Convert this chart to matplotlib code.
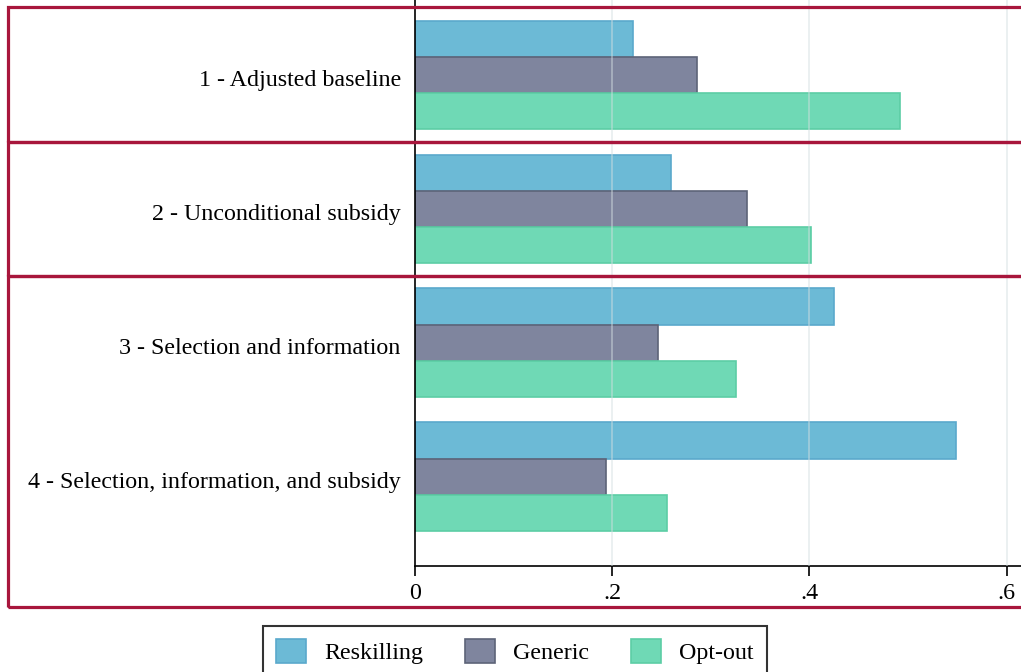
import numpy as np
import matplotlib
matplotlib.use('Agg')
import matplotlib.pyplot as plt
import matplotlib.transforms as mtransforms
from matplotlib.patches import Rectangle, Patch

# treatment arms, top to bottom
arms = ["1 - Adjusted baseline",
        "2 - Unconditional subsidy",
        "3 - Selection and information",
        "4 - Selection, information, and subsidy"]
series = ["Reskilling", "Generic", "Opt-out"]
reskilling = [0.221, 0.260, 0.425, 0.549]
generic = [0.286, 0.337, 0.247, 0.194]
opt_out = [0.492, 0.402, 0.326, 0.256]
xticks = [0, 0.2, 0.4, 0.6]
xtick_labels = ["0", ".2", ".4", ".6"]

fills = ["#6cbad6", "#7f859e", "#6fd9b5"]
edges = ["#5aa9cc", "#5d6478", "#5ccda5"]
frame_red = "#a8163c"
fs = 17.3

plt.rcParams['font.family'] = ['Liberation Serif', 'DejaVu Serif']

W, H = 1021, 672
fig = plt.figure(figsize=(W / 100, H / 100), dpi=100)

# plot area in pixels: x from 414.7 to right edge, y from top to 566
x0_px, y_axis_px = 414.7, 566
ax = fig.add_axes([x0_px / W, (H - y_axis_px) / H, 1 - x0_px / W, y_axis_px / H])

pos = np.arange(len(arms))
bh = 0.27
for k, vals in enumerate([reskilling, generic, opt_out]):
    ax.barh(pos + (k - 1) * bh, vals, height=bh, color=fills[k],
            edgecolor=edges[k], linewidth=1.2, label=series[k], zorder=2)

ax.set_xlim(0, (W - x0_px) / 986.5)
ax.set_ylim(3 + 89.3 / 134, -74.8 / 134)

ax.set_xticks(xticks)
ax.set_xticklabels(xtick_labels)
for t in xticks[1:]:
    ax.axvline(t, color="#d3dee1", lw=1.3, alpha=0.5, zorder=3)

ax.set_yticks(pos)
ax.set_yticklabels(arms)
ax.tick_params(axis='y', length=0, pad=10, labelsize=fs)
ax.tick_params(axis='x', length=7, width=1.2, direction='out', pad=5, labelsize=fs)

# nudge the arm labels down a little
shift = mtransforms.ScaledTranslation(0, -3 / 100, fig.dpi_scale_trans)
for lab in ax.get_yticklabels():
    lab.set_transform(lab.get_transform() + shift)

for s in ['top', 'right']:
    ax.spines[s].set_visible(False)
for s in ['left', 'bottom']:
    ax.spines[s].set_color('black')
    ax.spines[s].set_linewidth(1.2)

# red frames around the arm groups, in pixel coordinates
def frame(x, y_top, y_bot):
    fig.patches.append(Rectangle((x / W, 1 - y_bot / H), (W + 20 - x) / W,
                                 (y_bot - y_top) / H, transform=fig.transFigure,
                                 fill=False, edgecolor=frame_red, linewidth=2.3,
                                 clip_on=False, zorder=10))

frame(8, 7, 142)
frame(8, 142, 276)
frame(7.5, 276, 607)

handles = [Patch(facecolor=fills[k], edgecolor=edges[k], linewidth=1.2) for k in range(3)]
leg = fig.legend(handles, series, loc='upper left', ncol=3,
                 bbox_to_anchor=(263 / W, 1 - 626 / H), fontsize=fs,
                 frameon=True, fancybox=False, edgecolor='black',
                 handlelength=1.25, handleheight=1.15, columnspacing=1.75,
                 handletextpad=0.75, borderpad=0.55, borderaxespad=0)
leg.get_frame().set_linewidth(1.5)

fig.savefig("out.png", dpi=100)
